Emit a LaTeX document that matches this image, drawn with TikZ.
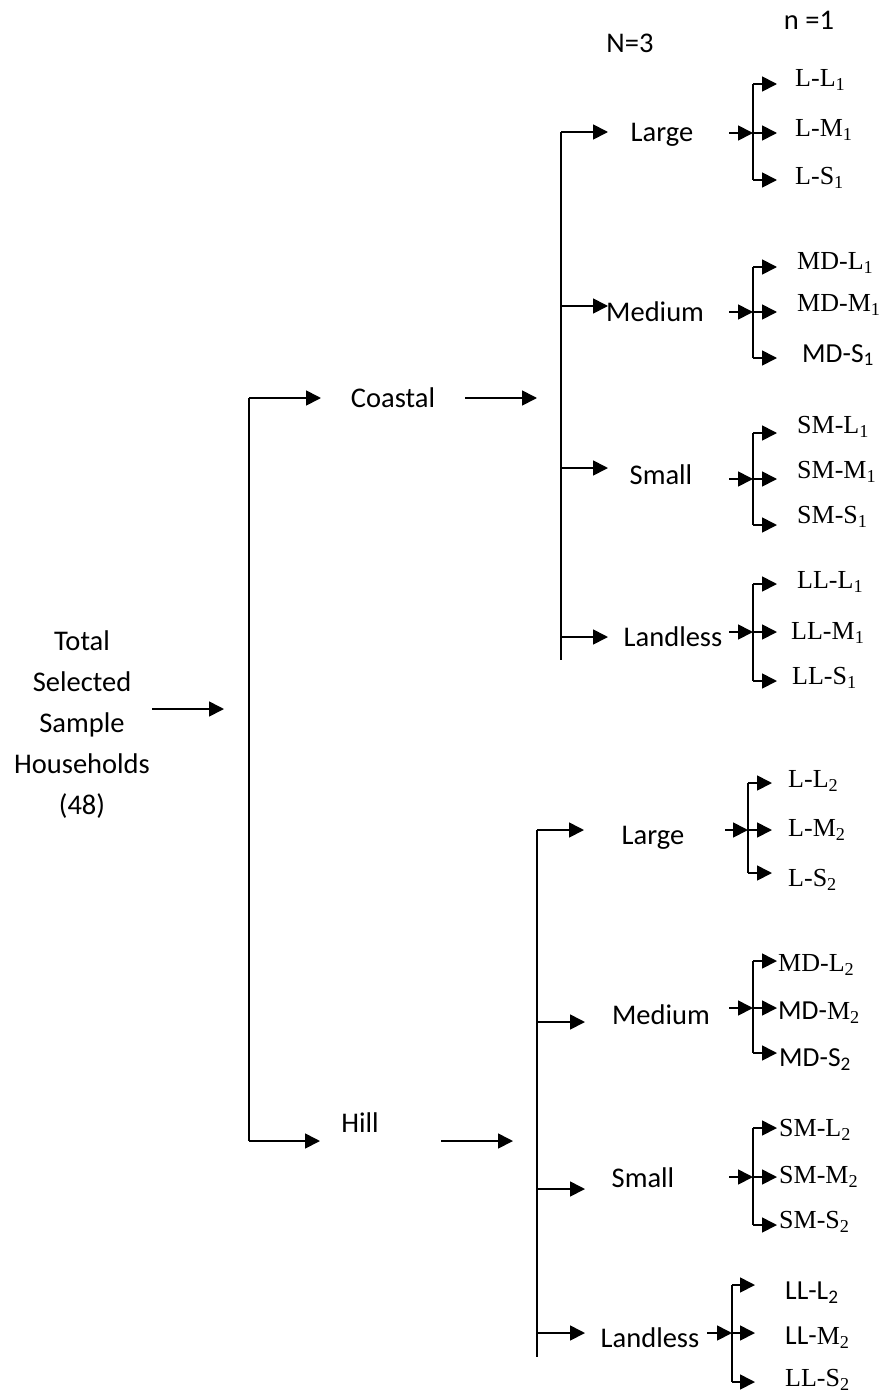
\documentclass[tikz,border=0pt]{standalone}
\usepackage{fontspec}
\setmainfont{Liberation Serif}
\newfontfamily\calib{Carlito}
\usetikzlibrary{arrows.meta}
\newcommand\lsub[1]{\textsubscript{#1}}
\newcommand{\LeafGroup}[7]{% #1 name, #2 x in-start, #3 x vertical, #4 x tip, #5 y in/mid, #6 y top, #7 y bot
  \coordinate (#1-in) at (#2,#5);
  \coordinate (#1-j) at (#3,#5);
  \coordinate (#1-t) at (#3,#6);
  \coordinate (#1-b) at (#3,#7);
  \coordinate (#1-tt) at (#4,#6);
  \coordinate (#1-mt) at (#4,#5);
  \coordinate (#1-bt) at (#4,#7);
  \draw[line] (#1-t) -- (#1-b);
  \draw[arr] (#1-in) -- (#1-j);
  \draw[arr] (#1-t) -- (#1-tt);
  \draw[arr] (#1-j) -- (#1-mt);
  \draw[arr] (#1-b) -- (#1-bt);
}
\tikzset{
  line/.style={line width=1.7pt},
  arr/.style={line width=1.7pt,-{Triangle[length=15pt,width=15pt]}},
  lbl/.style={inner sep=0pt,font=\calib\fontsize{28.5}{34}\selectfont},
  leaf/.style={inner sep=0pt,anchor=west,font=\fontsize{26}{30}\selectfont},
  sleaf/.style={inner sep=0pt,anchor=west,font=\calib\fontsize{27.5}{32}\selectfont},
}
\begin{document}
\begin{tikzpicture}[x=1pt,y=-1pt]
\useasboundingbox (0,0) rectangle (878,1394);
\fill[white] (0,0) rectangle (878,1394);

% headings
\node[lbl] (N3) at (630,43) {N=3};
\node[lbl] (n1) at (809,20) {n =1};

% root
\node[lbl,align=center,font=\calib\fontsize{28.5}{41}\selectfont] (total) at (82,725)
  {Total\\Selected\\Sample\\Households\\(48)};
\coordinate (ta) at (152,709);
\coordinate (tb) at (224,709);
\draw[arr] (ta) -- (tb);

% main split
\coordinate (mTop) at (249,398);
\coordinate (mBot) at (249,1141);
\coordinate (cTip) at (321,398);
\coordinate (hTip) at (320,1141);
\draw[line] (mTop) -- (mBot);
\draw[arr] (mTop) -- (cTip);
\draw[arr] (mBot) -- (hTip);

\node[lbl] (coastal) at (393,398) {Coastal};
\node[lbl] (hill) at (360,1123) {Hill};
\coordinate (ca) at (465,398);
\coordinate (cb) at (537,398);
\draw[arr] (ca) -- (cb);
\coordinate (ha) at (441,1141);
\coordinate (hb) at (513,1141);
\draw[arr] (ha) -- (hb);

% coastal group
\coordinate (cvT) at (561,132);
\coordinate (cvB) at (561,660);
\draw[line] (cvT) -- (cvB);
\coordinate (cv2) at (561,306);
\coordinate (cv3) at (561,468);
\coordinate (cv4) at (561,637);
\coordinate (cl1) at (608,132);
\coordinate (cl2) at (608,306);
\coordinate (cl3) at (608,468);
\coordinate (cl4) at (608,637);
\draw[arr] (cvT) -- (cl1);
\draw[arr] (cv2) -- (cl2);
\draw[arr] (cv3) -- (cl3);
\draw[arr] (cv4) -- (cl4);
\node[lbl] (cLarge) at (662,135) {Large};
\node[lbl,anchor=west] (cMedium) at (606,312) {Medium};
\node[lbl] (cSmall) at (661,475) {Small};
\node[lbl] (cLandless) at (673,637) {Landless};

\LeafGroup{gcl}{729}{753}{777}{133}{84}{180}
\LeafGroup{gcm}{729}{753}{777}{312}{267}{358}
\LeafGroup{gcs}{729}{753}{777}{479}{433}{525}
\LeafGroup{gcll}{729}{753}{777}{632}{584}{681}

\node[leaf] (cLL) at (795,80) {L-L\lsub{1}};
\node[leaf] (cLM) at (795,130) {L-M\lsub{1}};
\node[leaf] (cLS) at (795,178) {L-S\lsub{1}};
\node[leaf] (cML) at (797,263) {MD-L\lsub{1}};
\node[leaf] (cMM) at (797,305) {MD-M\lsub{1}};
\node[sleaf] (cMS) at (802,355) {MD-S\lsub{1}};
\node[leaf] (cSL) at (797,427) {SM-L\lsub{1}};
\node[leaf] (cSM) at (797,472) {SM-M\lsub{1}};
\node[leaf] (cSS) at (797,517) {SM-S\lsub{1}};
\node[leaf] (cNL) at (797,582) {LL-L\lsub{1}};
\node[leaf] (cNM) at (791,633) {LL-M\lsub{1}};
\node[leaf] (cNS) at (792,678) {LL-S\lsub{1}};

% hill group
\coordinate (hvT) at (537,830);
\coordinate (hvB) at (537,1357);
\draw[line] (hvT) -- (hvB);
\coordinate (hv2) at (537,1022);
\coordinate (hv3) at (537,1189);
\coordinate (hv4) at (537,1333);
\coordinate (hl1) at (584,830);
\coordinate (hl2) at (585,1022);
\coordinate (hl3) at (585,1189);
\coordinate (hl4) at (585,1333);
\draw[arr] (hvT) -- (hl1);
\draw[arr] (hv2) -- (hl2);
\draw[arr] (hv3) -- (hl3);
\draw[arr] (hv4) -- (hl4);
\node[lbl] (hLarge) at (653,838) {Large};
\node[lbl] (hMedium) at (661,1015) {Medium};
\node[lbl] (hSmall) at (643,1178) {Small};
\node[lbl] (hLandless) at (650,1338) {Landless};

\LeafGroup{ghl}{725}{748}{772}{830}{783}{873}
\LeafGroup{ghm}{729}{753}{777}{1008}{961}{1053}
\LeafGroup{ghs}{729}{753}{777}{1177}{1128}{1225}
\LeafGroup{ghll}{707}{732}{755}{1333}{1285}{1382}

\node[leaf] (hLL) at (788,781) {L-L\lsub{2}};
\node[leaf] (hLM) at (788,830) {L-M\lsub{2}};
\node[leaf] (hLS) at (788,880) {L-S\lsub{2}};
\node[leaf] (hML) at (778,965) {MD-L\lsub{2}};
\node[leaf] (hMM) at (778,1013) {{\calib\fontsize{27.5}{32}\selectfont MD-}M\lsub{2}};
\node[sleaf] (hMS) at (779,1060) {MD-S\lsub{2}};
\node[leaf] (hSL) at (779,1130) {SM-L\lsub{2}};
\node[leaf] (hSM) at (779,1177) {SM-M\lsub{2}};
\node[leaf] (hSS) at (779,1222) {SM-S\lsub{2}};
\node[sleaf] (hNL) at (785,1293) {LL-L\lsub{2}};
\node[leaf] (hNM) at (785,1338) {{\calib\fontsize{27.5}{32}\selectfont LL-}M\lsub{2}};
\node[leaf] (hNS) at (785,1380) {LL-S\lsub{2}};
\end{tikzpicture}
\end{document}
